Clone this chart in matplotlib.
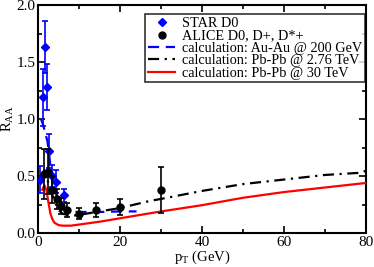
import matplotlib
matplotlib.use("Agg")
import matplotlib.pyplot as plt
from matplotlib.ticker import MultipleLocator
from matplotlib.lines import Line2D

plt.rcParams['font.family'] = ['Liberation Serif', 'DejaVu Serif']
plt.rcParams['mathtext.fontset'] = 'custom'
plt.rcParams['mathtext.rm'] = 'Liberation Serif'
plt.rcParams['mathtext.it'] = 'Liberation Serif:italic'

# STAR D0 data
star_pt = [0.35, 1.15, 1.65, 2.15, 2.7, 3.4, 4.4, 6.2]
star_raa = [0.47, 1.19, 1.63, 1.28, 0.72, 0.50, 0.45, 0.33]
star_err = [0.12, 0.25, 0.23, 0.20, 0.15, 0.10, 0.10, 0.06]

# ALICE D0, D+, D*+ data
alice_pt = [1.5, 2.5, 3.5, 4.5, 5.5, 7, 10, 14, 20, 30]
alice_raa = [0.52, 0.54, 0.38, 0.30, 0.24, 0.20, 0.17, 0.20, 0.23, 0.38]
alice_err = [0.22, 0.20, 0.12, 0.09, 0.07, 0.06, 0.05, 0.06, 0.07, 0.20]

# calculation Au-Au @ 200 GeV
auau_pt = [0.7, 1.2, 1.8, 2.3, 2.8, 3.3, 4, 5, 6, 7, 10, 15, 20, 24]
auau_raa = [1.0, 0.95, 0.87, 0.80, 0.65, 0.50, 0.38, 0.27, 0.21, 0.19, 0.185, 0.185, 0.19, 0.19]

# calculation Pb-Pb @ 2.76 TeV
pbpb276_pt = [1, 1.5, 2, 3, 4, 5, 6, 8, 10, 15, 20, 27, 30, 40, 50, 60, 70, 79, 80]
pbpb276_raa = [0.50, 0.55, 0.50, 0.38, 0.28, 0.20, 0.17, 0.15, 0.16, 0.19, 0.22, 0.28, 0.30, 0.37, 0.43, 0.47, 0.51, 0.53, 0.55]

# calculation Pb-Pb @ 30 TeV
pbpb30_pt = [1.0, 1.5, 2, 2.5, 3, 3.5, 4, 5, 6, 8, 10, 15, 20, 30, 40, 50, 60, 70, 80]
pbpb30_raa = [0.38, 0.42, 0.38, 0.27, 0.17, 0.12, 0.09, 0.07, 0.065, 0.065, 0.075, 0.10, 0.13, 0.19, 0.245, 0.31, 0.36, 0.40, 0.44]

labels = ['STAR D0', 'ALICE D0, D+, D*+', 'calculation: Au-Au @ 200 GeV',
          'calculation: Pb-Pb @ 2.76 TeV', 'calculation: Pb-Pb @ 30 TeV']

fig = plt.figure(figsize=(3.74, 2.67), dpi=100)
ax = fig.add_axes([0.102, 0.127, 0.877, 0.854])

blue = '#0000ff'
red = '#ff0000'
ax.plot(auau_pt, auau_raa, color=blue, lw=1.6, dashes=(5, 3), zorder=3)
ax.plot(pbpb276_pt, pbpb276_raa, color='black', lw=1.6, dashes=(5, 2.5, 1, 2.5), zorder=3)
ax.plot(pbpb30_pt, pbpb30_raa, color=red, lw=1.6, zorder=3)

ax.errorbar(star_pt, star_raa, yerr=star_err, fmt='D', color=blue, ms=4,
            capsize=2.5, elinewidth=1.2, capthick=1.2, zorder=4)
ax.errorbar(alice_pt, alice_raa, yerr=alice_err, fmt='o', color='black', ms=5,
            capsize=2.5, elinewidth=1.2, capthick=1.2, zorder=5)

ax.set_xlim(0, 80)
ax.set_ylim(0, 2.0)
ax.xaxis.set_major_locator(MultipleLocator(20))
ax.xaxis.set_minor_locator(MultipleLocator(10))
ax.yaxis.set_major_locator(MultipleLocator(0.5))
ax.yaxis.set_minor_locator(MultipleLocator(0.25))
ax.yaxis.set_major_formatter(matplotlib.ticker.FormatStrFormatter('%.1f'))
ax.tick_params(which='both', direction='in', top=True, right=True, labelsize=11, width=1.2, pad=2)
ax.tick_params(which='major', length=5)
ax.tick_params(which='minor', length=3)
for s in ax.spines.values():
    s.set_linewidth(1.5)

ax.set_xlabel(r'p$_\mathrm{T}$ (GeV)', fontsize=10.5, labelpad=0)
ax.set_ylabel(r'R$_\mathrm{AA}$', fontsize=10.5)
ax.yaxis.set_label_coords(-0.068, 0.5)

handles = [
    Line2D([], [], ls='none', marker='D', color=blue, ms=4),
    Line2D([], [], ls='none', marker='o', color='black', ms=5),
    Line2D([], [], color=blue, lw=1.6, dashes=(5, 3)),
    Line2D([], [], color='black', lw=1.6, dashes=(5, 2.5, 1, 2.5)),
    Line2D([], [], color=red, lw=1.6),
]
leg = ax.legend(handles, labels,
                loc='upper right', bbox_to_anchor=(1.0, 0.962), fontsize=10.3,
                frameon=True, fancybox=False, borderpad=0.2, labelspacing=-0.05,
                handlelength=1.9, handletextpad=0.5, borderaxespad=0.05)
leg.get_frame().set_edgecolor('black')
leg.get_frame().set_linewidth(1.2)

fig.savefig('out.png', dpi=100)
